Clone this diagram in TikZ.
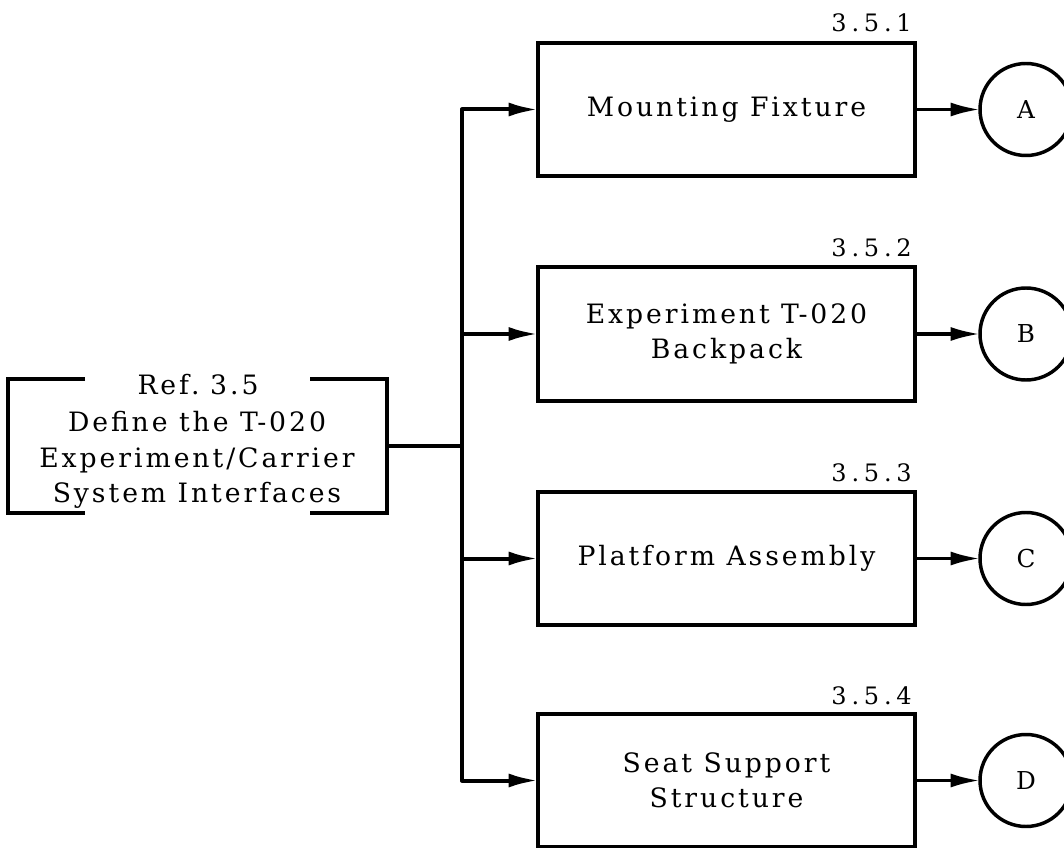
\documentclass[tikz,border=0pt]{standalone}
\usepackage{fontspec}
\setmainfont[LetterSpace=11]{DejaVu Serif}
\newfontfamily\lblfont[LetterSpace=20]{DejaVu Serif}
\usetikzlibrary{arrows.meta,calc}
\begin{document}
\begin{tikzpicture}[x=0.75pt,y=-0.75pt,
  txt/.style={font=\fontsize{20pt}{26.5pt}\selectfont,align=center,inner sep=0pt},
  box/.style={draw,line width=3.1pt,outer sep=0pt,minimum width=282.75pt,minimum height=100pt,
    font=\fontsize{20pt}{26.5pt}\selectfont,align=center},
  circ/.style={draw,circle,line width=2.6pt,outer sep=0pt,minimum size=69pt,inner sep=0pt,
    font=\fontsize{18.5pt}{19pt}\selectfont},
  lbl/.style={font=\lblfont\fontsize{18pt}{20pt}\selectfont,inner sep=0pt,anchor=base east},
  conn/.style={line width=3pt},
  conn2/.style={line width=2.6pt},
  arr/.style={-{Latex[length=22pt,width=10.5pt]}}]
\useasboundingbox (0,0) rectangle (1064,848);
% left bracket box
\node[minimum width=284.25pt,minimum height=100.5pt,outer sep=0pt,inner sep=0pt] (def) at (197.5,446) {};
\node[txt] (deftext) at (197,460) {Define the T-020\\Experiment/Carrier\\System Interfaces};
\node[txt] (ref) at (198,385) {Ref.\hspace{0.4em}3.5};
\draw[conn] ($(def.north west)+(77,0)$) -- (def.north west) -- (def.south west) -- ++(77,0);
\draw[conn] ($(def.north east)+(-77,0)$) -- (def.north east) -- (def.south east) -- ++(-77,0);
% boxes
\node[box] (m1) at (726.5,109.5) {Mounting Fixture};
\node[box] (m2) at (726.5,334) {Experiment T-020\\Backpack};
\node[box] (m3) at (726.5,558.5) {Platform Assembly};
\node[box] (m4) at (726.5,780.5) {Seat Support\\Structure};
% labels
\node[lbl] (l1) at (912,32) {3.5.1};
\node[lbl] (l2) at (912,257) {3.5.2};
\node[lbl] (l3) at (912,481) {3.5.3};
\node[lbl] (l4) at (912,704) {3.5.4};
% circles
\node[circ] (cA) at (1026,109.5) {A};
\node[circ] (cB) at (1026,334) {B};
\node[circ] (cC) at (1026,558.5) {C};
\node[circ] (cD) at (1026,780.5) {D};
% connectors
\coordinate (tr) at (462,446);
\draw[conn] (def.east) -- (tr);
\draw[conn,arr,line join=round] (tr) |- (m1.west);
\draw[conn,arr] (tr) |- (m2.west);
\draw[conn,arr] (tr) |- (m3.west);
\draw[conn,arr,line join=round] (tr) |- (m4.west);
\draw[conn2,arr] (m1.east) -- (cA.west);
\draw[conn2,arr] (m2.east) -- (cB.west);
\draw[conn2,arr] (m3.east) -- (cC.west);
\draw[conn2,arr] (m4.east) -- (cD.west);
\end{tikzpicture}
\end{document}
